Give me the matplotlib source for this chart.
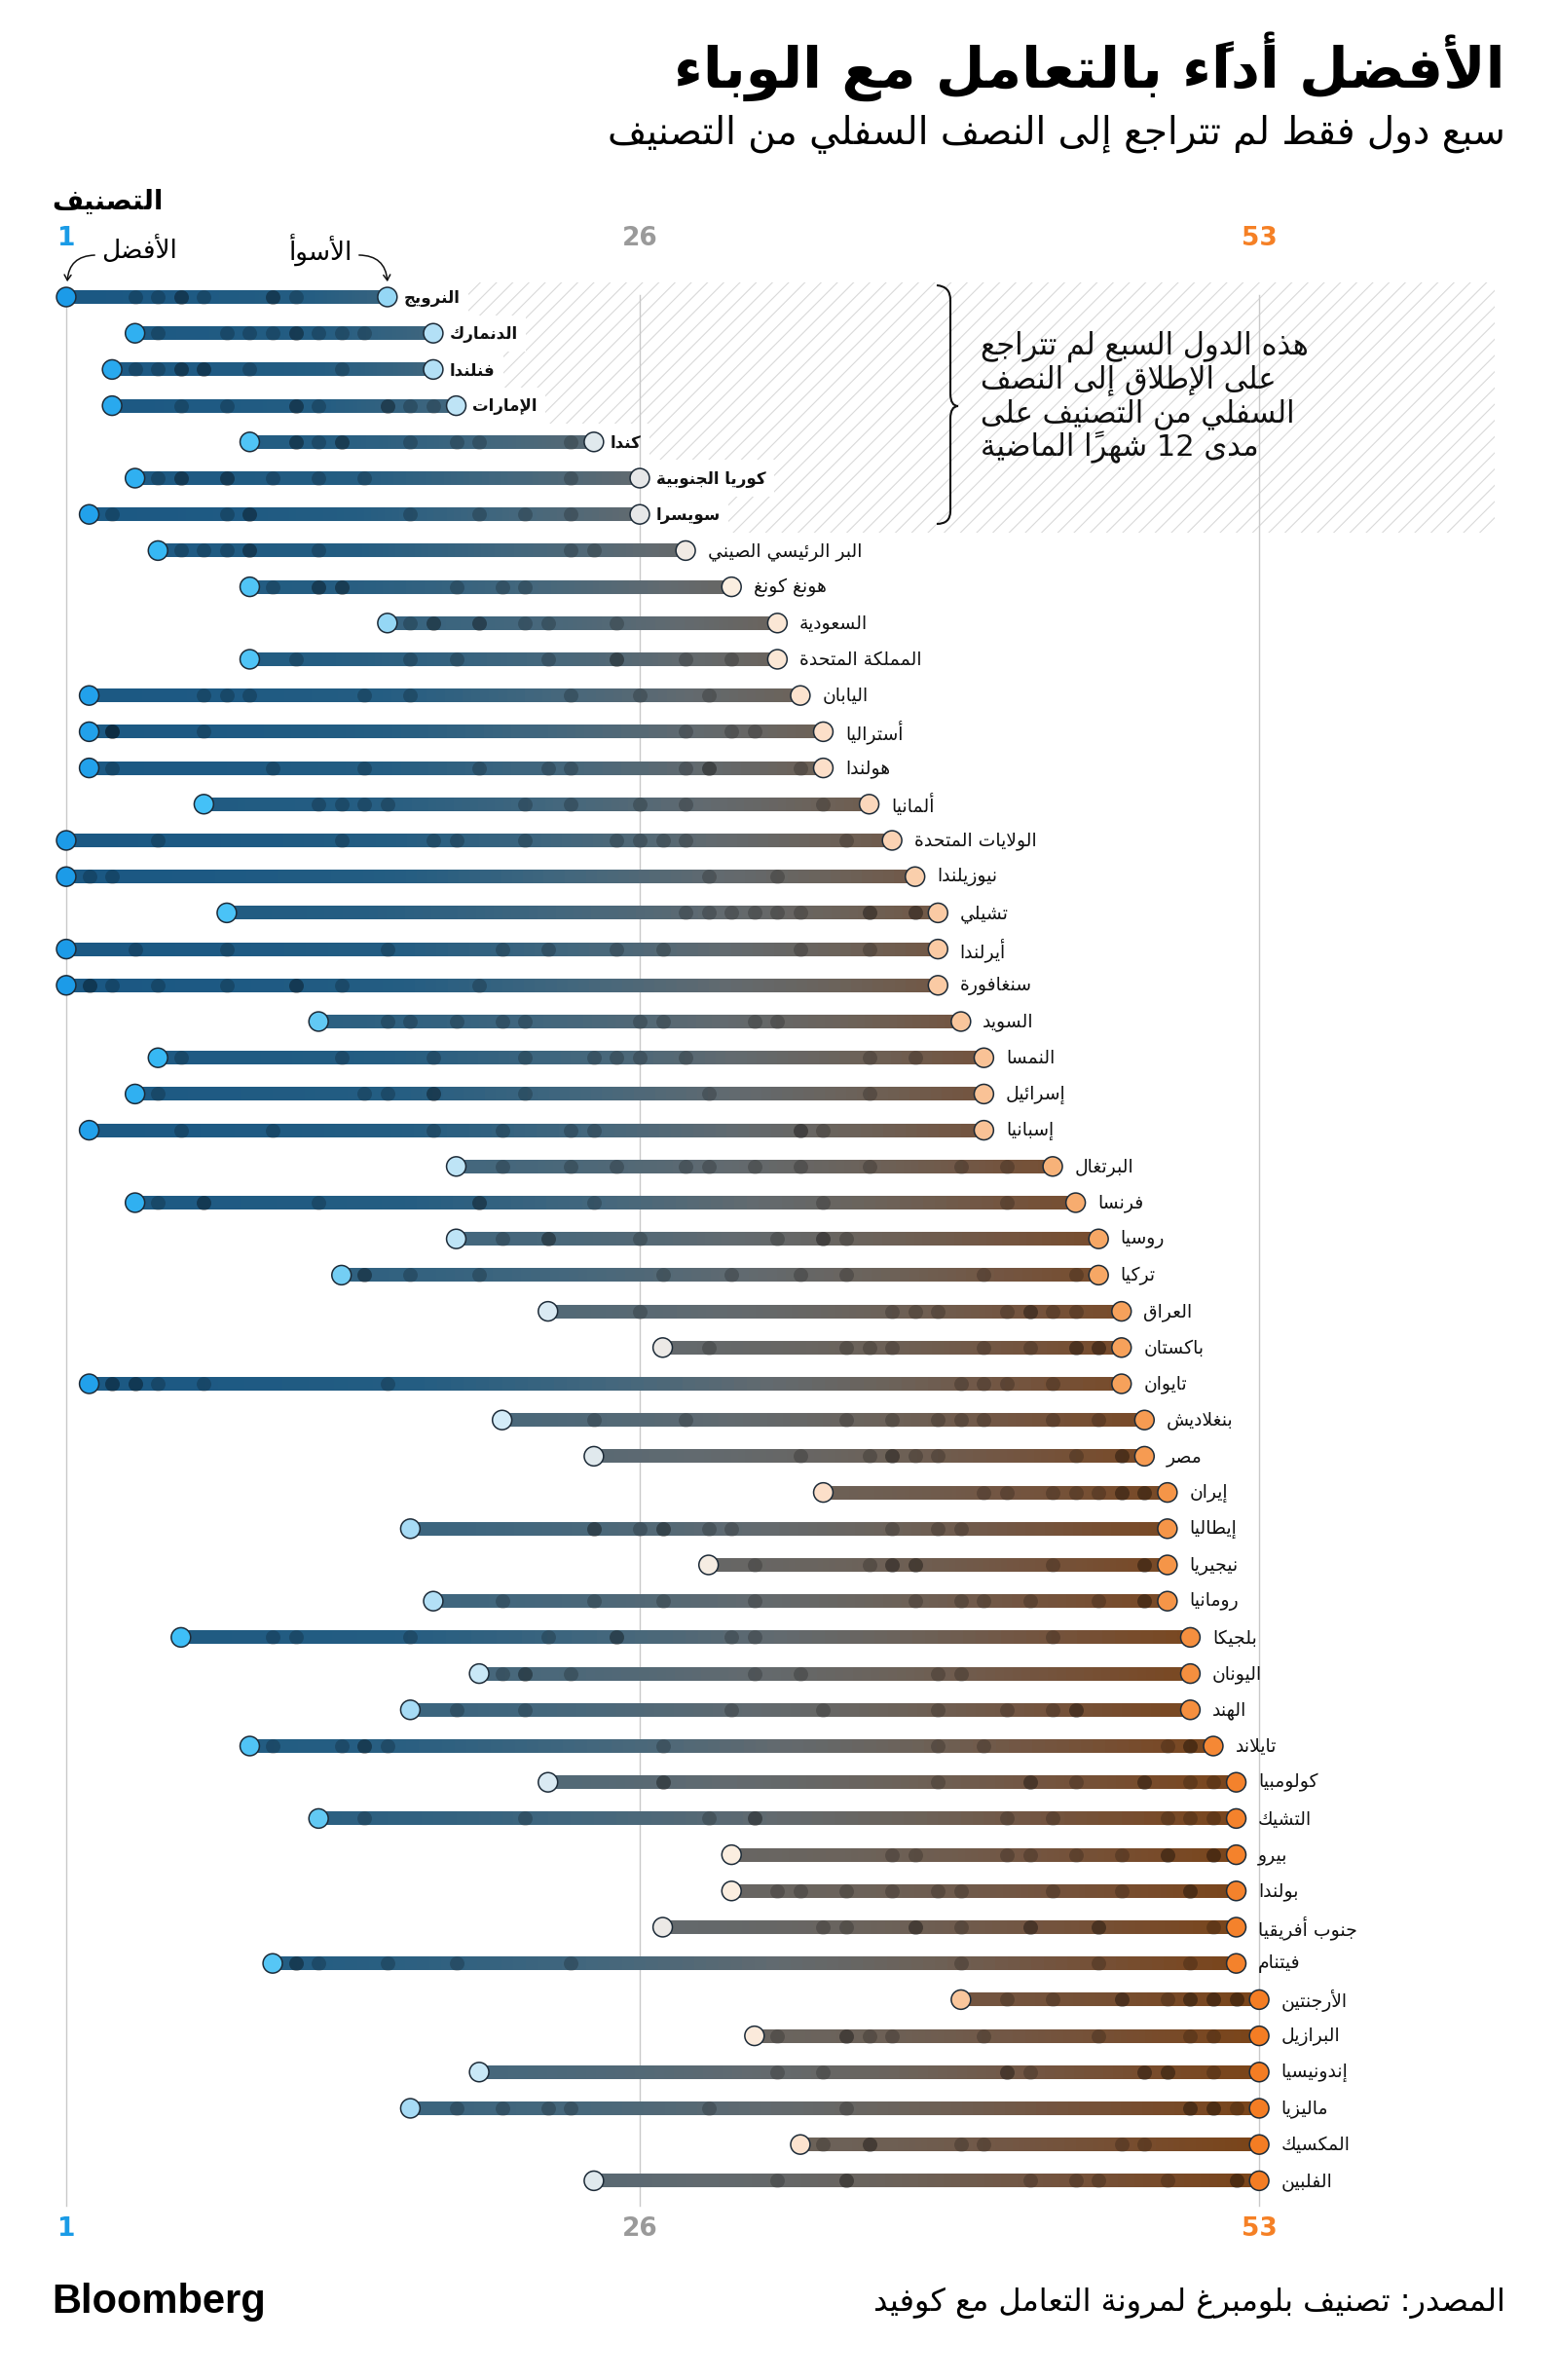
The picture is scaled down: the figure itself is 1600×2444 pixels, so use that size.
import numpy as np
import matplotlib
matplotlib.use('Agg')
import matplotlib.pyplot as plt
from matplotlib.collections import LineCollection
from matplotlib.colors import LinearSegmentedColormap
from matplotlib.patches import Rectangle, FancyArrowPatch, PathPatch
from matplotlib.path import Path

plt.rcParams['font.family'] = ['DejaVu Sans']
plt.rcParams['hatch.color'] = '#d9d9d9'
plt.rcParams['hatch.linewidth'] = 0.8

# ---- data: monthly Covid resilience ranks ----
countries = ['النرويج', 'الدنمارك', 'فنلندا', 'الإمارات', 'كندا', 'كوريا الجنوبية', 'سويسرا',
             'البر الرئيسي الصيني', 'هونغ كونغ', 'السعودية', 'المملكة المتحدة', 'اليابان',
             'أستراليا', 'هولندا', 'ألمانيا', 'الولايات المتحدة', 'نيوزيلندا', 'تشيلي',
             'أيرلندا', 'سنغافورة', 'السويد', 'النمسا', 'إسرائيل', 'إسبانيا', 'البرتغال',
             'فرنسا', 'روسيا', 'تركيا', 'العراق', 'باكستان', 'تايوان', 'بنغلاديش', 'مصر',
             'إيران', 'إيطاليا', 'نيجيريا', 'رومانيا', 'بلجيكا', 'اليونان', 'الهند',
             'تايلاند', 'كولومبيا', 'التشيك', 'بيرو', 'بولندا', 'جنوب أفريقيا', 'فيتنام',
             'الأرجنتين', 'البرازيل', 'إندونيسيا', 'ماليزيا', 'المكسيك', 'الفلبين']

ranks = [
    [1, 4, 5, 6, 6, 7, 10, 10, 11, 15],
    [4, 5, 8, 9, 10, 11, 11, 12, 13, 14, 17],
    [3, 4, 5, 6, 6, 7, 7, 9, 13, 17],
    [3, 6, 8, 11, 11, 12, 15, 15, 16, 17, 18],
    [9, 11, 11, 12, 13, 13, 16, 18, 19, 23, 24],
    [4, 5, 6, 6, 8, 8, 10, 12, 14, 23, 26],
    [2, 3, 8, 9, 9, 16, 19, 21, 23, 26],
    [5, 6, 7, 8, 9, 9, 12, 23, 24, 28],
    [9, 10, 12, 12, 13, 13, 18, 20, 21, 30],
    [15, 16, 17, 17, 19, 19, 21, 22, 25, 32],
    [9, 11, 16, 18, 22, 25, 25, 28, 30, 32],
    [2, 7, 8, 9, 14, 16, 23, 26, 29, 33],
    [2, 3, 3, 3, 7, 28, 30, 31, 34],
    [2, 3, 10, 14, 19, 22, 23, 28, 29, 29, 33, 34],
    [7, 12, 13, 14, 15, 21, 23, 26, 28, 34, 36],
    [1, 5, 13, 17, 18, 21, 25, 26, 27, 28, 35, 37],
    [1, 1, 1, 2, 3, 29, 32, 38],
    [8, 28, 29, 30, 31, 32, 33, 36, 36, 38, 38, 39],
    [1, 4, 8, 15, 20, 22, 25, 27, 33, 36, 39],
    [1, 2, 2, 3, 5, 8, 11, 11, 13, 19, 39],
    [12, 15, 16, 18, 20, 21, 26, 27, 31, 32, 40],
    [5, 6, 13, 17, 21, 24, 25, 26, 28, 36, 38, 41],
    [4, 5, 14, 15, 17, 17, 21, 29, 36, 41],
    [2, 6, 10, 17, 20, 23, 24, 33, 33, 34, 41],
    [18, 20, 23, 25, 28, 29, 31, 33, 36, 40, 42, 44],
    [4, 5, 7, 7, 12, 19, 19, 24, 34, 42, 45],
    [18, 20, 22, 22, 26, 32, 34, 34, 35, 46],
    [13, 14, 14, 16, 19, 27, 30, 33, 35, 41, 45, 46],
    [22, 26, 37, 38, 39, 42, 43, 43, 44, 45, 47],
    [27, 29, 35, 36, 37, 41, 43, 45, 45, 46, 46, 47],
    [2, 3, 3, 4, 4, 5, 7, 15, 40, 41, 42, 44, 47],
    [20, 24, 28, 35, 37, 39, 40, 41, 44, 46, 48],
    [24, 33, 36, 37, 37, 38, 39, 45, 47, 47, 48],
    [34, 41, 42, 44, 45, 46, 47, 47, 48, 48, 49],
    [16, 24, 24, 26, 27, 27, 29, 30, 37, 39, 40, 49],
    [29, 31, 36, 37, 37, 38, 38, 44, 48, 48, 49],
    [17, 20, 24, 27, 31, 38, 40, 41, 43, 46, 48, 48, 49],
    [6, 10, 11, 16, 22, 25, 25, 30, 31, 44, 50],
    [19, 20, 21, 21, 23, 31, 33, 39, 40, 50],
    [16, 18, 21, 30, 34, 39, 42, 44, 45, 45, 50],
    [9, 10, 13, 14, 14, 15, 27, 39, 41, 49, 50, 50, 51],
    [22, 27, 27, 39, 43, 43, 45, 48, 48, 50, 51, 52],
    [12, 14, 21, 29, 31, 31, 42, 44, 49, 50, 51, 52],
    [30, 37, 38, 42, 43, 45, 47, 49, 49, 51, 51, 52],
    [30, 32, 33, 35, 37, 39, 40, 44, 47, 50, 50, 52],
    [27, 34, 35, 38, 38, 40, 43, 43, 46, 46, 51, 52],
    [10, 11, 11, 12, 15, 18, 23, 40, 46, 50, 52],
    [40, 42, 44, 47, 47, 49, 50, 50, 51, 51, 52, 52, 53],
    [31, 32, 35, 35, 36, 37, 41, 46, 50, 51, 53],
    [19, 32, 34, 42, 42, 43, 48, 48, 49, 49, 51, 53],
    [16, 18, 20, 22, 23, 29, 35, 50, 50, 51, 51, 52, 53],
    [33, 34, 36, 36, 40, 41, 47, 48, 53],
    [24, 32, 35, 35, 43, 45, 46, 49, 52, 52, 53],
]
n_never_bottom = 7
axis_ticks = [1, 26, 53]
tick_colors = ['#1a9be6', '#9a9a9a', '#f58025']

title = 'الأفضل أداءً بالتعامل مع الوباء'
subtitle = 'سبع دول فقط لم تتراجع إلى النصف السفلي من التصنيف'
note_lines = ['هذه الدول السبع لم تتراجع', 'على الإطلاق إلى النصف',
              'السفلي من التصنيف على', 'مدى 12 شهراً الماضية']
source = 'المصدر: تصنيف بلومبرغ لمرونة التعامل مع كوفيد'

# ---- minimal Arabic shaping (matplotlib has no complex text layout) ----
DUAL = {'ئ': 0xFE89, 'ب': 0xFE8F, 'ت': 0xFE95, 'ث': 0xFE99, 'ج': 0xFE9D, 'ح': 0xFEA1,
        'خ': 0xFEA5, 'س': 0xFEB1, 'ش': 0xFEB5, 'ص': 0xFEB9, 'ض': 0xFEBD, 'ط': 0xFEC1,
        'ظ': 0xFEC5, 'ع': 0xFEC9, 'غ': 0xFECD, 'ف': 0xFED1, 'ق': 0xFED5, 'ك': 0xFED9,
        'ل': 0xFEDD, 'م': 0xFEE1, 'ن': 0xFEE5, 'ه': 0xFEE9, 'ي': 0xFEF1}
RIGHT = {'آ': 0xFE81, 'أ': 0xFE83, 'ؤ': 0xFE85, 'إ': 0xFE87, 'ا': 0xFE8D, 'ة': 0xFE93,
         'د': 0xFEA9, 'ذ': 0xFEAB, 'ر': 0xFEAD, 'ز': 0xFEAF, 'و': 0xFEED, 'ى': 0xFEEF}
LAMALEF = {'آ': 0xFEF5, 'أ': 0xFEF7, 'إ': 0xFEF9, 'ا': 0xFEFB}
MARKS = set(chr(c) for c in range(0x064B, 0x0653))


def ar(s):
    cl = []
    i = 0
    while i < len(s):
        ch = s[i]
        if ch in MARKS and cl:
            cl[-1][1] += ch
            i += 1
            continue
        if ch == 'ل' and i + 1 < len(s) and s[i + 1] in LAMALEF:
            cl.append([ch + s[i + 1], '', 'R', LAMALEF[s[i + 1]]])
            i += 2
            continue
        if ch in DUAL:
            cl.append([ch, '', 'D', DUAL[ch]])
        elif ch in RIGHT:
            cl.append([ch, '', 'R', RIGHT[ch]])
        elif ch == 'ء':
            cl.append([ch, '', 'U', 0xFE80])
        else:
            cl.append([ch, '', 'N', None])
        i += 1
    out = []
    for k, c in enumerate(cl):
        prev = cl[k - 1] if k > 0 else None
        nxt = cl[k + 1] if k + 1 < len(cl) else None
        jp = prev is not None and prev[2] == 'D' and c[2] in 'DR'
        jn = nxt is not None and c[2] == 'D' and nxt[2] in 'DR'
        if c[2] == 'D':
            g = chr(c[3] + (3 if jp and jn else 1 if jp else 2 if jn else 0))
        elif c[2] == 'R':
            g = chr(c[3] + (1 if jp else 0))
        elif c[2] == 'U':
            g = chr(c[3])
        else:
            g = c[0]
        out.append(g + c[1])
    tokens = []
    for g in out:
        ltr = g[0].isascii() and g[0].isalnum()
        if ltr and tokens and tokens[-1][0]:
            tokens[-1][1] += g
        else:
            tokens.append([ltr, g])
    return ''.join(t[1] for t in reversed(tokens))


# ---- colours ----
light = LinearSegmentedColormap.from_list('light', [
    (0.0, '#1c9be8'), (5 / 52, '#3fc0f8'), (11 / 52, '#62c9f4'), (15 / 52, '#a9dcf5'),
    (19 / 52, '#d4ecf8'), (25 / 52, '#e6e7e8'), (29 / 52, '#fbeee0'), (34 / 52, '#fcdcc4'),
    (40 / 52, '#f9c296'), (46 / 52, '#f6a25c'), (1.0, '#f47d24')])
dark = LinearSegmentedColormap.from_list('dark', [
    (0.0, '#1b5883'), (9 / 52, '#245d82'), (17 / 52, '#43677d'), (25 / 52, '#626a6f'),
    (32 / 52, '#6c6259'), (39 / 52, '#735541'), (46 / 52, '#784b2a'), (1.0, '#7a4418')])


def norm(r):
    return (np.asarray(r) - 1) / 52.0


# ---- geometry: pixel helpers ----
W, H = 1600, 2444
def X(px):
    return 1 + (px - 68) / 23.56
def Y(py):
    return (py - 305) / 37.2

fig = plt.figure(figsize=(W / 100, H / 100), dpi=100)
ax = fig.add_axes([0, 0, 1, 1])
ax.set_xlim(X(0), X(W))
ax.set_ylim(Y(H), Y(0))
ax.axis('off')

# hatched zone behind the seven countries
ax.add_patch(Rectangle((X(0), Y(290)), X(1535) - X(0), Y(547) - Y(290),
                       facecolor='none', edgecolor='#d9d9d9', hatch='//', lw=0, zorder=0))

# grid lines
for t in axis_ticks:
    ax.plot([t, t], [Y(303), Y(2265)], color='#c9c9c9', lw=1, zorder=1)

# bars with gradient
segs, cols = [], []
for i, r in enumerate(ranks):
    lo, hi = min(r), max(r)
    tt = np.linspace(0, 1, 81)
    xs = lo + (hi - lo) * tt
    vals = lo + (hi - lo) * tt ** 1.5
    for k in range(80):
        segs.append([(xs[k], i), (xs[k + 1], i)])
        cols.append(dark(norm((vals[k] + vals[k + 1]) / 2)))
ax.add_collection(LineCollection(segs, colors=cols, linewidths=10.1, capstyle='butt', zorder=2))

# monthly positions
for i, r in enumerate(ranks):
    ax.scatter(r, [i] * len(r), s=116, color='black', alpha=0.2, lw=0, zorder=3)

# best / worst circles and labels
labels = []
for i, (name, r) in enumerate(zip(countries, ranks)):
    lo, hi = min(r), max(r)
    ax.scatter([lo, hi], [i, i], s=205, c=[light(norm(lo)), light(norm(hi))],
               edgecolors='#1d2b38', linewidths=1.1, zorder=4)
    bold = i < n_never_bottom
    t = ax.text(hi + (0.72 if bold else 0.95), i + 0.02, ar(name), ha='left', va='center',
                fontsize=12 if bold else 13.5, fontweight='bold' if bold else 'normal',
                color='#111111', zorder=5)
    labels.append(t)

# axis numbers top and bottom
for t, c in zip(axis_ticks, tick_colors):
    ax.text(t, Y(245), str(t), ha='center', va='center', fontsize=19, fontweight='bold', color=c)
    ax.text(t, Y(2289), str(t), ha='center', va='center', fontsize=19, fontweight='bold', color=c)

ax.text(X(53), Y(207), ar('التصنيف'), ha='left', va='center', fontsize=20, fontweight='bold')
ax.text(X(143), Y(257), ar('الأفضل'), ha='center', va='center', fontsize=19)
ax.text(X(329), Y(257), ar('الأسوأ'), ha='center', va='center', fontsize=19)
ax.add_patch(FancyArrowPatch((X(100), Y(262)), (X(69), Y(292)), connectionstyle='arc3,rad=0.5',
                             arrowstyle='->,head_length=4,head_width=2.5', lw=1.1, color='#111111'))
ax.add_patch(FancyArrowPatch((X(366), Y(262)), (X(398), Y(292)), connectionstyle='arc3,rad=-0.5',
                             arrowstyle='->,head_length=4,head_width=2.5', lw=1.1, color='#111111'))

# brace and note
codes = [Path.MOVETO, Path.CURVE3, Path.CURVE3, Path.LINETO, Path.CURVE3, Path.CURVE3,
         Path.CURVE3, Path.CURVE3, Path.LINETO, Path.CURVE3, Path.CURVE3]
bp = [(962, 293), (976, 294), (976, 308), (976, 404), (976, 417), (984, 417),
      (976, 417), (976, 430), (976, 525), (976, 538), (962, 538)]
ax.add_patch(PathPatch(Path([(X(a), Y(b)) for a, b in bp], codes), fill=False, lw=1.5,
                       edgecolor='#111111', zorder=5))
for k, line in enumerate(note_lines):
    ax.text(X(1007), Y(356 + 34.5 * k), ar(line), ha='left', va='center', fontsize=22,
            color='#111111', zorder=5)

# titles and footer
fig.text(1546 / W, 1 - 68 / H, ar(title), ha='right', va='center', fontsize=42, fontweight='bold')
fig.text(1546 / W, 1 - 138 / H, ar(subtitle), ha='right', va='center', fontsize=28)
fig.text(1546 / W, 1 - 2365 / H, ar(source), ha='right', va='center', fontsize=23)
fig.text(53 / W, 1 - 2364 / H, 'Bloomberg', ha='left', va='center', fontsize=30,
         fontweight='bold', family=['Liberation Sans', 'DejaVu Sans'])

# white masks to make the hatched zone step around the labels
fig.canvas.draw()
rend = fig.canvas.get_renderer()
inv = ax.transData.inverted()
for i in range(n_never_bottom):
    bb = labels[i].get_window_extent(rend)
    xr = inv.transform((bb.x1 + 8, 0))[0]
    ax.add_patch(Rectangle((X(0), i - 0.5), xr - X(0), 1.0, facecolor='white',
                           edgecolor='none', zorder=0.5))

fig.savefig('out.png', dpi=100, facecolor='white')
